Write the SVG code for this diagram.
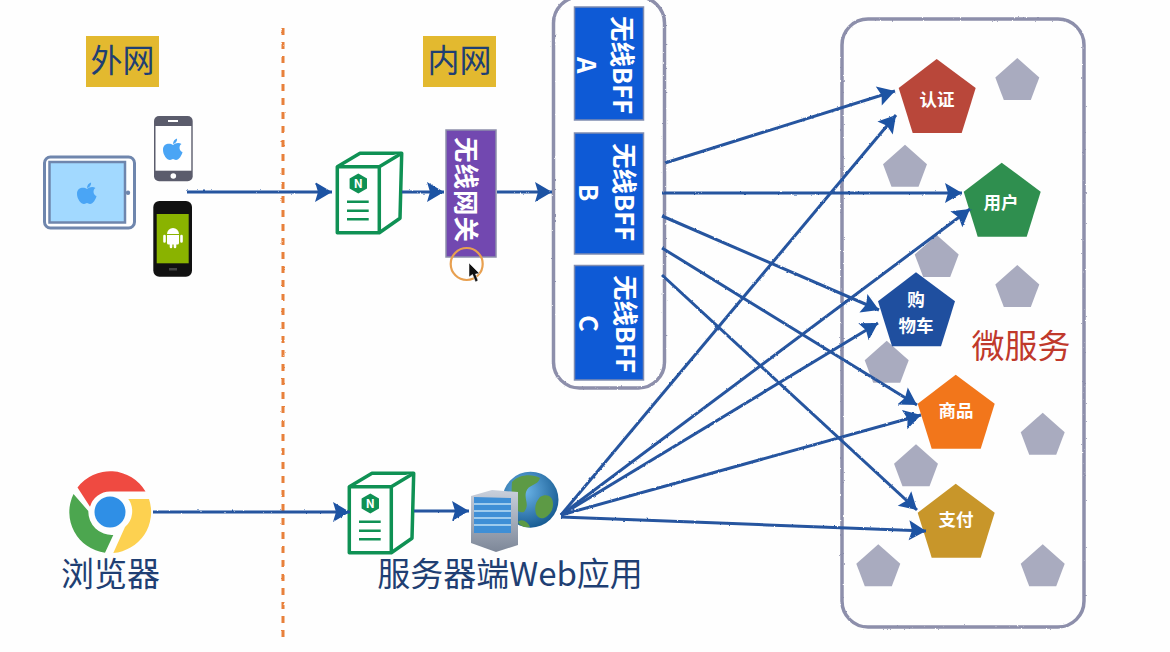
<svg xmlns="http://www.w3.org/2000/svg" xmlns:xlink="http://www.w3.org/1999/xlink" width="1170" height="652" viewBox="0 0 1170 652">
<style>
text{font-family:"Noto Sans CJK SC","Noto Sans",sans-serif}
.zone{fill:none;stroke:#8d8fab;stroke-width:3.5}
.lbl{fill:#1f3f73;font-size:33px;text-anchor:middle}
.gold{fill:#e3b92f}
.bff{fill:#0e5ad6;stroke:#7f8cb0;stroke-width:1.5}
.vt{fill:#fff;font-weight:700;font-size:25.500px}
.pt{fill:#fff;font-weight:700;font-size:17.500px;text-anchor:middle}
.gray{fill:#a9abbf}
.lnk{fill:none;stroke:#25549f;stroke-width:3;marker-end:url(#ah)}
.ng{fill:#fff;stroke:#0f9154;stroke-width:3.500;stroke-linejoin:round}
.ngl{stroke:#0f9154;stroke-width:2.600}
</style>
<defs>
<marker id="ah" markerUnits="userSpaceOnUse" markerWidth="22" markerHeight="24" refX="18" refY="11" orient="auto" overflow="visible"><path d="M1,1 L18,11 L1,21 L4,11Z" fill="#1f52a3"/></marker>
<filter id="rough" x="0" y="-10" width="1170" height="662" filterUnits="userSpaceOnUse"><feTurbulence type="fractalNoise" baseFrequency="0.35" numOctaves="2" seed="4"/><feDisplacementMap in="SourceGraphic" scale="2" xChannelSelector="R" yChannelSelector="G"/></filter>
<polygon id="pc" points="0,0 39,29 25,74 -24,74 -38,29"/>
<polygon id="pg" points="0,0 22,19.500 13.500,42 -13.500,42 -22,19.500"/>
<path id="apple" d="M0,-4C-3,-6 -10,-6 -10,1C-10,6 -6,11 -3,11C-1.500,11 -1,10 0,10C1,10 1.500,11 3,11C6,11 9,6 9.500,3C6,2 5.500,-3.500 8.500,-5C6,-7 2,-6 0,-4ZM0,-5C0,-8 2,-10 4,-10.500C4.500,-8 2.500,-5.500 0,-5Z" fill="#4aa5f5"/>
<g id="ngbox">
<path class="ng" d="M337.300,166.700 L360,153.300 H401.700 L400,218.300 L379.300,232.700 H337.300Z"/>
<path class="ng" fill="none" d="M337.300,166.700 H379.300 L401.700,153.300 M379.300,166.700 V232.700"/>
<polygon points="358.300,173.500 367,178.500 367,188.500 358.300,193.500 349.600,188.500 349.600,178.500" fill="#0f9154"/>
<text x="358.300" y="187.800" fill="#fff" font-size="12" font-weight="700" text-anchor="middle">N</text>
<path class="ngl" d="M347,201.700H368.700M347,210.700H368.700M347,219.300H368.700"/>
</g>
<radialGradient id="gl" cx="0.4" cy="0.35" r="0.7"><stop offset="0" stop-color="#6bb4e8"/><stop offset="1" stop-color="#14588f"/></radialGradient>
<linearGradient id="sv" x1="0" y1="0" x2="0" y2="1"><stop offset="0" stop-color="#c9d0dc"/><stop offset="1" stop-color="#7d8798"/></linearGradient>
</defs>
<rect width="1170" height="652" fill="#fefefe"/>

<g id="zones" filter="url(#rough)">
<path d="M283,28V640" fill="none" stroke="#e8803a" stroke-width="3" stroke-dasharray="7 7"/>
<rect class="zone" x="553.500" y="-3" width="111" height="391" rx="26"/>
<rect class="zone" x="842" y="19" width="242" height="608" rx="26"/>
</g>

<g id="label-outer"><rect class="gold" x="86" y="36" width="73" height="51"/><text class="lbl" x="122.500" y="72" style="font-size:32px">外网</text></g>
<g id="label-inner"><rect class="gold" x="423" y="36" width="73" height="51"/><text class="lbl" x="459.500" y="72" style="font-size:32px">内网</text></g>

<g id="tablet">
<rect x="44.500" y="157" width="90" height="71" rx="6" fill="#fff" stroke="#6f86ad" stroke-width="3"/>
<rect x="49.500" y="162" width="75.500" height="60.500" fill="#a2d9ff" stroke="#6f86ad" stroke-width="2.500"/>
<circle cx="128" cy="192.700" r="2.200" fill="#6f86ad"/>
<use href="#apple" x="87" y="193"/>
</g>
<g id="iphone">
<rect x="154" y="116" width="38.700" height="65.300" rx="5" fill="#5b5c6c"/>
<rect x="155.500" y="126" width="35.800" height="44.700" fill="#fff"/>
<rect x="168" y="120" width="10" height="2" fill="#fff"/>
<circle cx="173.300" cy="176" r="2.800" fill="#fff"/>
<use href="#apple" x="173" y="149"/>
</g>
<g id="android">
<rect x="153.300" y="201" width="38.700" height="75.700" rx="6" fill="#111"/>
<rect x="156.700" y="214" width="32" height="49.300" fill="#8ab300"/>
<path d="M167,234a6,6 0 0 1 12,0Z M167,235H179V243a1.500,1.500 0 0 1 -1.500,1.500H168.500a1.500,1.500 0 0 1 -1.500,-1.500Z" fill="#fff"/>
<path d="M164.500,236V241.500M181.500,236V241.500M171,244V247M175,244V247" stroke="#fff" stroke-width="2.600" stroke-linecap="round"/>
<rect x="169" y="268" width="8" height="2.500" fill="#444"/>
</g>
<g id="chrome">
<path d="M77.500,487.500A41,41 0 0 1 145.500,491.500H110A21,21 0 0 0 90,506.700Z" fill="#ef4a41"/>
<path d="M149,499A41,41 0 0 1 113.300,552.900L125,527A21,21 0 0 0 128.300,499Z" fill="#fdd150"/>
<path d="M73.500,494A41,41 0 0 0 105,552.700L113.300,535A23.500,23.500 0 0 1 88.300,511Z" fill="#4ca64f"/>
<circle cx="110" cy="512" r="15.500" fill="#2f8fe6"/>
</g>
<text id="label-browser" class="lbl" x="110.500" y="586">浏览器</text>

<g id="nginx-wireless"><use href="#ngbox"/></g>
<g id="nginx-web"><use href="#ngbox" x="12" y="320"/></g>

<g id="wireless-gateway">
<rect x="446" y="130" width="50" height="127" fill="#7248b0" stroke="#8d8fab" stroke-width="1.500"/>
<text class="vt" transform="translate(457,137) rotate(90)" style="letter-spacing:1px">无线网关</text>
</g>
<g id="cursor">
<circle cx="466.700" cy="264" r="16" fill="none" stroke="#e8a050" stroke-width="2.200"/>
<path d="M469,263 L469,277 L472.500,274.500 L475.500,282 L478,280.500 L475.500,274 L479.500,273.500Z" fill="#111" stroke="#fff" stroke-width="0.500"/>
</g>

<g id="bff-a"><rect class="bff" x="574.500" y="7" width="69" height="113"/><text class="vt" transform="translate(613,16) rotate(90)">无线BFF</text><text class="vt" transform="translate(577,57) rotate(90)">A</text></g>
<g id="bff-b"><rect class="bff" x="574.500" y="133" width="69" height="121"/><text class="vt" transform="translate(615,143) rotate(90)">无线BFF</text><text class="vt" transform="translate(579,184) rotate(90)">B</text></g>
<g id="bff-c"><rect class="bff" x="574.500" y="265.500" width="69" height="114.500"/><text class="vt" transform="translate(616,275) rotate(90)">无线BFF</text><text class="vt" transform="translate(579,315) rotate(90)">C</text></g>

<g id="web-server">
<circle cx="530.500" cy="499.700" r="28" fill="url(#gl)"/>
<path d="M512,482C520,474 532,474 540,478C538,486 528,484 526,492C524,500 530,504 524,512C516,514 510,504 512,482ZM540,497C548,492 556,498 552,510C548,518 540,522 536,514C534,506 536,502 540,497ZM518,522C522,518 528,522 530,527C524,528 520,526 518,522Z" fill="#5d9a45"/>
<path d="M471,496L492,490L518,492V541L518,545L496,552L471,543Z" fill="url(#sv)"/>
<path d="M474,497L511,498V533H474Z" fill="#3f8fd6"/>
<path d="M474,504H511M474,511H511M474,518H511M474,525H511" stroke="#bfe0f5" stroke-width="1.500"/>
</g>
<text id="label-web" class="lbl" x="510" y="586">服务器端Web应用</text>

<g id="microservices-gray" class="gray">
<use href="#pg" x="1017.300" y="58"/><use href="#pg" x="905" y="144.700"/><use href="#pg" x="936.700" y="235"/><use href="#pg" x="1017.300" y="265"/><use href="#pg" x="886.700" y="340.700"/><use href="#pg" x="1042.700" y="412.700"/><use href="#pg" x="916" y="444.300"/><use href="#pg" x="878.300" y="544.300"/><use href="#pg" x="1042.700" y="544.300"/>
</g>
<g id="svc-auth"><use href="#pc" x="936.700" y="59" fill="#b9473a"/><text class="pt" x="937" y="106">认证</text></g>
<g id="svc-user"><use href="#pc" x="1001.700" y="162.700" fill="#2f8f4f"/><text class="pt" x="1001" y="209">用户</text></g>
<g id="svc-cart"><use href="#pc" x="916" y="272.300" fill="#1f4f9f"/><text class="pt" x="916" y="306">购</text><text class="pt" x="916" y="332">物车</text></g>
<g id="svc-goods"><use href="#pc" x="955.700" y="374.700" fill="#f2761b"/><text class="pt" x="956" y="417">商品</text></g>
<g id="svc-pay"><use href="#pc" x="955.700" y="483.700" fill="#c8962a"/><text class="pt" x="956" y="526">支付</text></g>
<text id="label-micro" x="1021" y="358" style="font-size:33px;text-anchor:middle;fill:#c0392b">微服务</text>

<g id="connectors" filter="url(#rough)">
<line class="lnk" x1="187" y1="192" x2="332" y2="192"/>
<line class="lnk" x1="402" y1="192" x2="444" y2="192"/>
<line class="lnk" x1="497" y1="192" x2="552" y2="192"/>
<line class="lnk" x1="153" y1="512" x2="350" y2="512"/>
<line class="lnk" x1="414" y1="511" x2="469" y2="511"/>
<line class="lnk" x1="665" y1="163" x2="895" y2="91"/>
<line class="lnk" x1="662" y1="193" x2="962" y2="193"/>
<line class="lnk" x1="662" y1="216" x2="879" y2="310"/>
<line class="lnk" x1="662" y1="248" x2="917" y2="405"/>
<line class="lnk" x1="662" y1="275" x2="917" y2="510"/>
<line class="lnk" x1="561" y1="515" x2="896" y2="115"/>
<line class="lnk" x1="561" y1="515" x2="970" y2="209"/>
<line class="lnk" x1="561" y1="515" x2="878" y2="323"/>
<line class="lnk" x1="561" y1="515" x2="921" y2="415"/>
<line class="lnk" x1="561" y1="517" x2="926" y2="531"/>
</g>
</svg>
